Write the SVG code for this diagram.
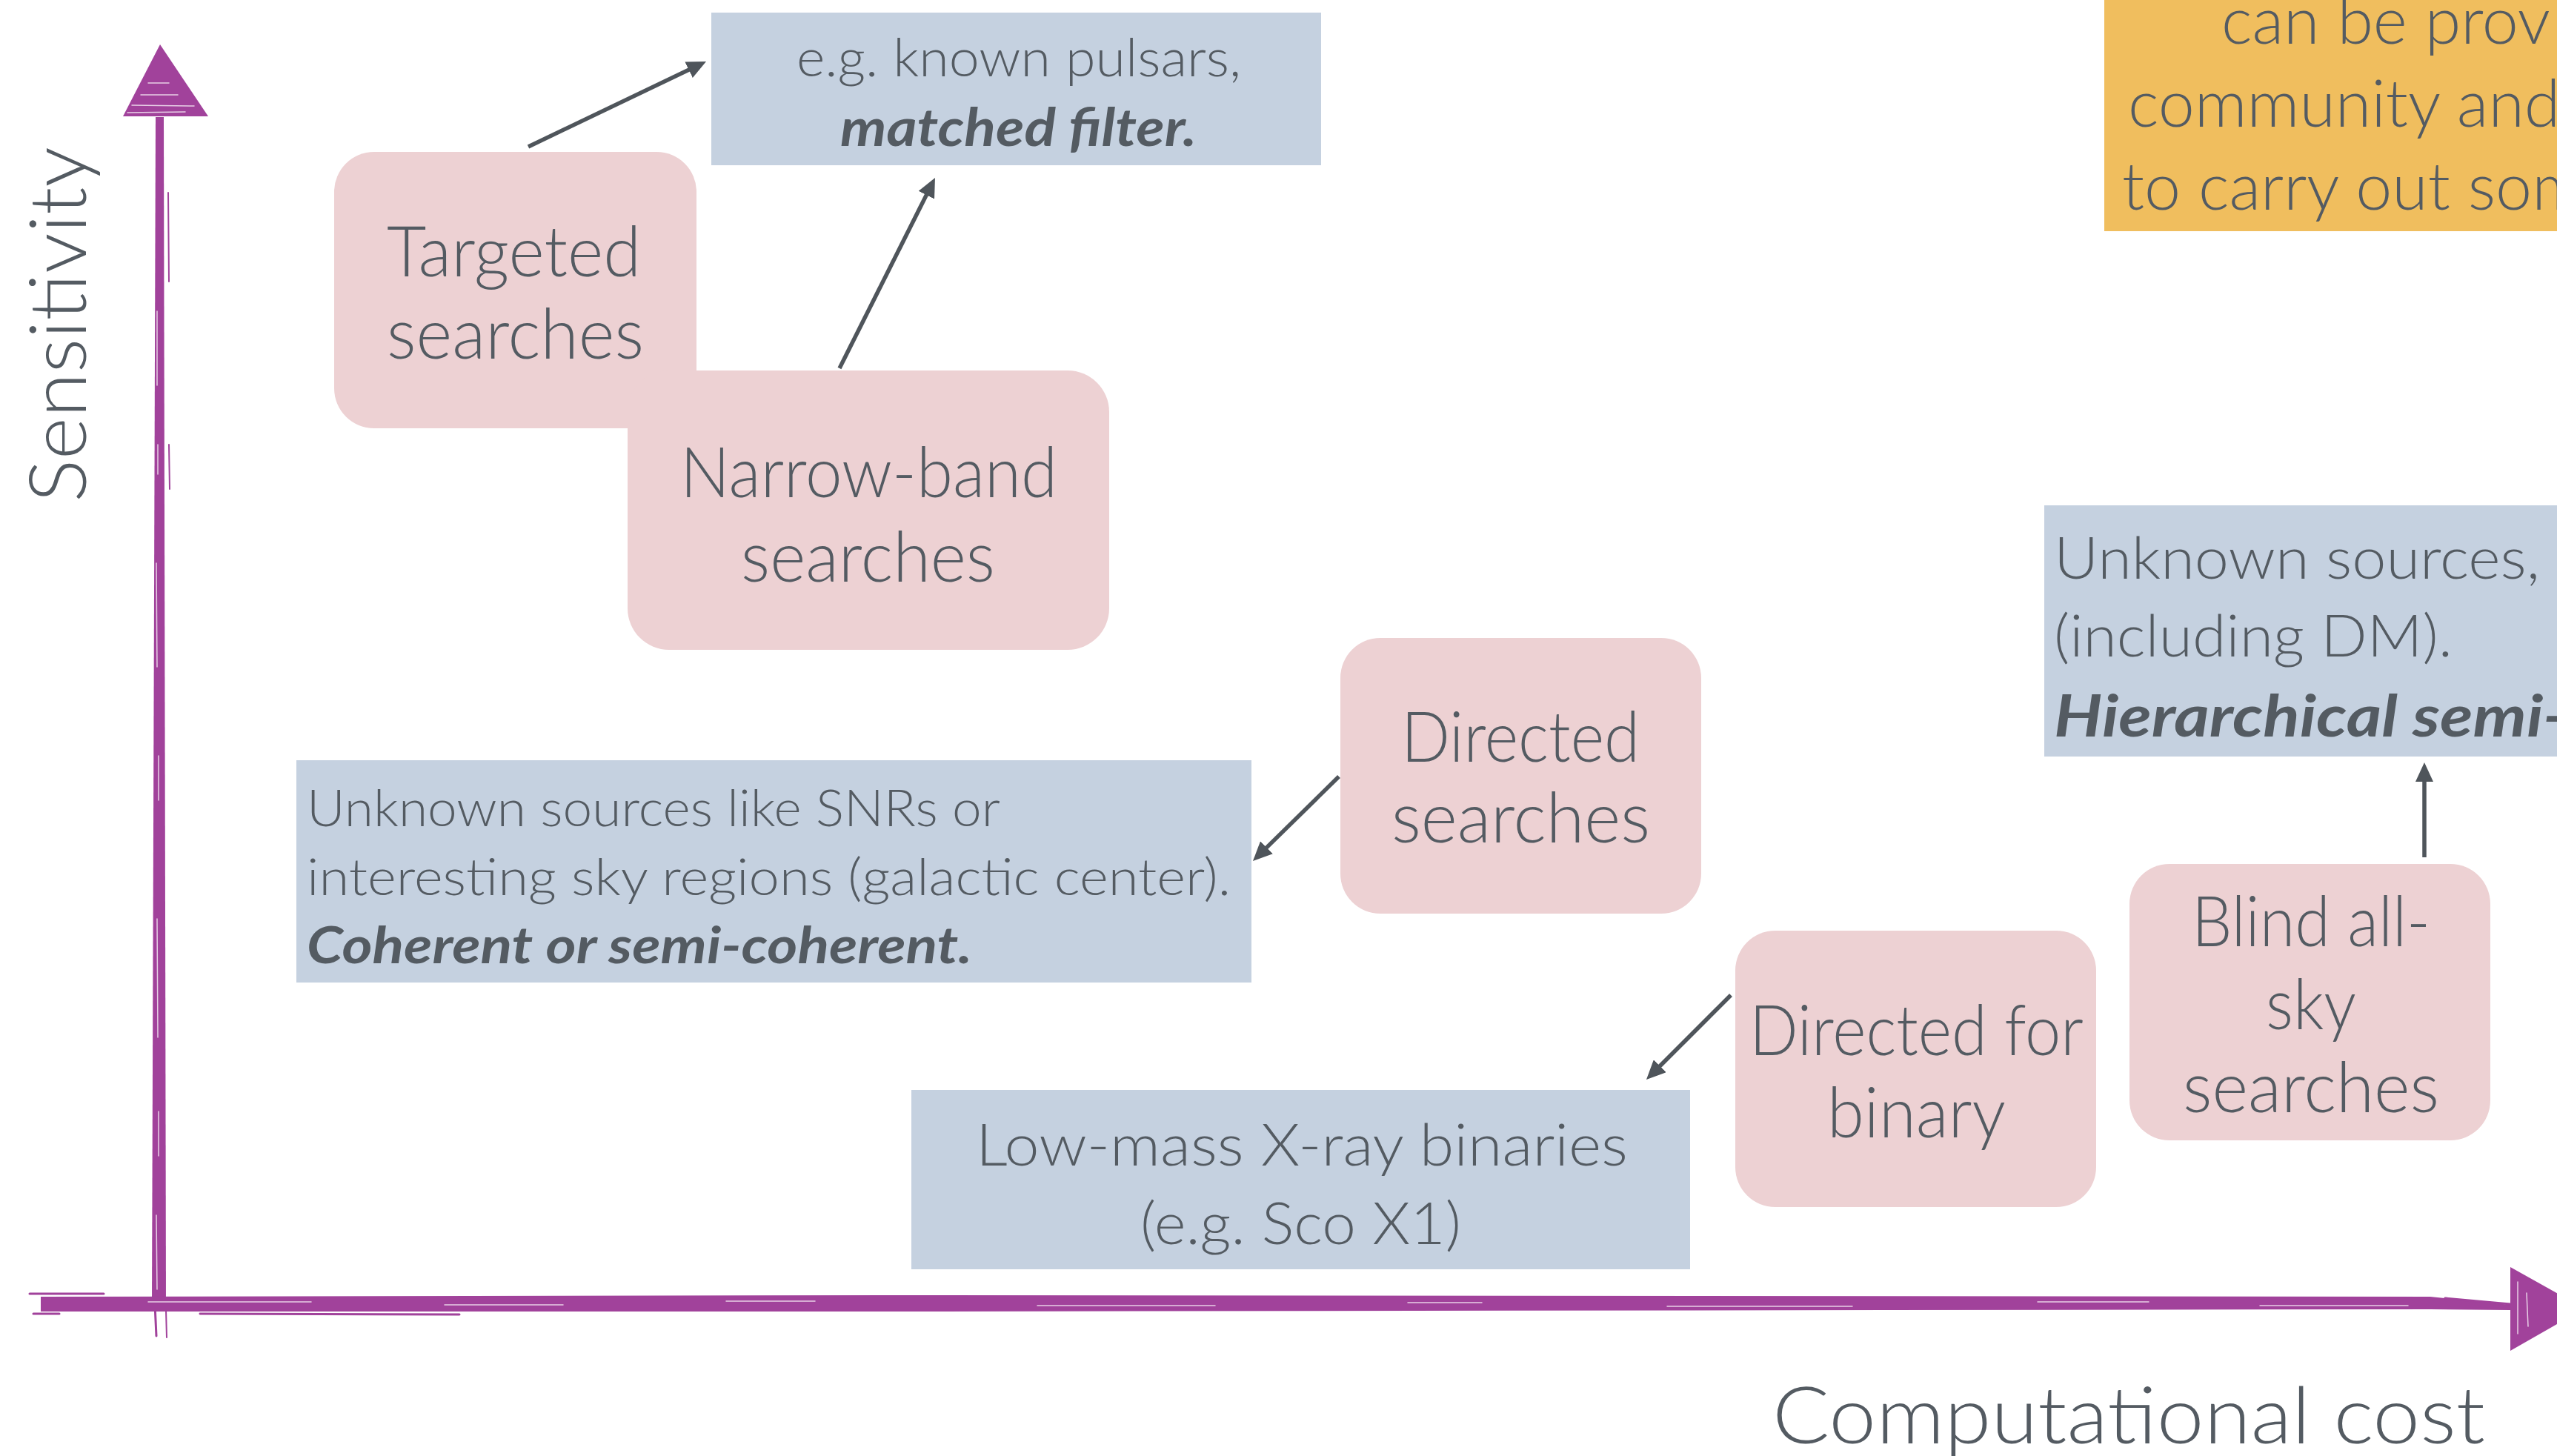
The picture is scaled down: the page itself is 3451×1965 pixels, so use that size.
<svg xmlns="http://www.w3.org/2000/svg" width="3451" height="1965" viewBox="0 0 3451 1965">
<defs>
<style>
.pink{fill:#EDD1D3}
.blue{fill:#C5D1E0}
.orange{fill:#F0BE5E}
text{font-family:Lato,Roboto,"Open Sans","Liberation Sans",sans-serif;font-weight:300;fill:#545B62}
.bi{font-weight:700;font-style:italic}
.f94{font-size:94px}
.f68{font-size:68px}
.f70{font-size:70px}
.f78{font-size:78px}
.f88{font-size:88px}
.f107{font-size:107px}
.conn{stroke:#4F555B;stroke-width:5.5;fill:none;marker-end:url(#ah)}
.axis{fill:#A1429B}
.axl{stroke:#A1429B;fill:none;stroke-linecap:round}
.streak{stroke:#fff;fill:none;stroke-linecap:round;opacity:0.75}
</style>
<marker id="ah" viewBox="0 0 26 24" refX="8" refY="12" markerWidth="26" markerHeight="24" markerUnits="userSpaceOnUse" orient="auto"><path d="M0,0 L26,12 L0,24 Z" fill="#4F555B"/></marker>
</defs>
<rect x="0" y="0" width="3451" height="1965" fill="#ffffff"/>

<g id="axes">
  <!-- y axis -->
  <path class="axis" d="M210,158 L221,158 L224,1762 L205,1762 Z"/>
  <polygon class="axis" points="216,60 166,157 281,157"/>
  <line class="axl" x1="209" y1="1760" x2="211" y2="1803" stroke-width="3"/>
  <line class="axl" x1="224" y1="1768" x2="225" y2="1805" stroke-width="2"/>
  <line class="axl" x1="227" y1="260" x2="228" y2="380" stroke-width="2"/>
  <line class="axl" x1="228" y1="600" x2="229" y2="660" stroke-width="2"/>
  <path class="streak" d="M212,420 L212,520 M213,600 L213,640 M211,760 L212,900 M214,1020 L214,1080 M212,1240 L213,1400 M214,1500 L214,1560 M211,1640 L212,1740" stroke-width="1.5"/>
  <path class="streak" d="M190,128 L240,128 M178,142 L262,143 M200,112 L228,112 M172,152 L250,151" stroke-width="1.5"/>
  <!-- x axis -->
  <path class="axis" d="M55,1750 L1200,1748 L3280,1750 L3388,1761 L3388,1768 L3280,1767 L1200,1770 L55,1770 Z"/>
  <polygon class="axis" points="3388,1710 3488,1766 3388,1823"/>
  <line class="axl" x1="45" y1="1773" x2="80" y2="1773" stroke-width="3"/>
  <line class="axl" x1="40" y1="1746" x2="140" y2="1746" stroke-width="3"/>
  <line class="axl" x1="270" y1="1773" x2="620" y2="1774" stroke-width="3"/>
  <line class="axl" x1="3300" y1="1752" x2="3388" y2="1760" stroke-width="3"/>
  <path class="streak" d="M200,1757 L420,1757 M600,1761 L760,1761 M980,1756 L1100,1756 M1400,1762 L1640,1762 M1900,1758 L2000,1758 M2250,1763 L2500,1763 M2750,1757 L2900,1757 M3050,1762 L3250,1762" stroke-width="1.5"/>
  <path class="streak" d="M3398,1730 L3398,1800 M3410,1745 L3412,1790" stroke-width="1.5"/>
  <text class="f107" transform="translate(116,678) rotate(-90)" x="0" y="0" textLength="480" lengthAdjust="spacingAndGlyphs">Sensitivity</text>
  <text class="f107" x="2392" y="1948" textLength="962" lengthAdjust="spacingAndGlyphs">Computational cost</text>
</g>

<g id="connectors">
  <line class="conn" x1="713" y1="198" x2="936.8" y2="90.8"/>
  <line class="conn" x1="1133" y1="497" x2="1253.9" y2="256.1"/>
  <line class="conn" x1="1807" y1="1048" x2="1703.8" y2="1149.4"/>
  <line class="conn" x1="2336" y1="1343" x2="2234.7" y2="1444.3"/>
  <line class="conn" x1="3272" y1="1157" x2="3272" y2="1047"/>
</g>

<g id="known-pulsars">
  <rect class="blue" x="960" y="17" width="823" height="206"/>
  <text class="f70" x="1075" y="103" textLength="600" lengthAdjust="spacingAndGlyphs">e.g. known pulsars,</text>
  <text class="f70 bi" x="1134" y="197" textLength="481" lengthAdjust="spacingAndGlyphs">matched filter.</text>
</g>

<g id="targeted">
  <rect class="pink" x="451" y="205" width="489" height="373" rx="54" ry="54"/>
  <text class="f94" x="522" y="373" textLength="343" lengthAdjust="spacingAndGlyphs">Targeted</text>
  <text class="f94" x="522" y="484" textLength="347" lengthAdjust="spacingAndGlyphs">searches</text>
</g>

<g id="narrow-band">
  <rect class="pink" x="847" y="500" width="650" height="377" rx="56" ry="56"/>
  <text class="f94" x="918" y="671" textLength="509" lengthAdjust="spacingAndGlyphs">Narrow-band</text>
  <text class="f94" x="1000" y="785" textLength="343" lengthAdjust="spacingAndGlyphs">searches</text>
</g>

<g id="directed">
  <rect class="pink" x="1809" y="861" width="487" height="372" rx="54" ry="54"/>
  <text class="f94" x="1891" y="1028" textLength="322" lengthAdjust="spacingAndGlyphs">Directed</text>
  <text class="f94" x="1878" y="1137" textLength="349" lengthAdjust="spacingAndGlyphs">searches</text>
</g>

<g id="unknown-snr">
  <rect class="blue" x="400" y="1026" width="1289" height="300"/>
  <text class="f68" x="414" y="1115" textLength="936" lengthAdjust="spacingAndGlyphs">Unknown sources like SNRs or</text>
  <text class="f68" x="414" y="1208" textLength="1247" lengthAdjust="spacingAndGlyphs">interesting sky regions (galactic center).</text>
  <text class="f68 bi" x="414" y="1300" textLength="898" lengthAdjust="spacingAndGlyphs">Coherent or semi-coherent.</text>
</g>

<g id="directed-binary">
  <rect class="pink" x="2342" y="1256" width="487" height="373" rx="54" ry="54"/>
  <text class="f94" x="2361" y="1424" textLength="451" lengthAdjust="spacingAndGlyphs">Directed for</text>
  <text class="f94" x="2466" y="1535" textLength="241" lengthAdjust="spacingAndGlyphs">binary</text>
</g>

<g id="lmxb">
  <rect class="blue" x="1230" y="1471" width="1051" height="242"/>
  <text class="f78" x="1317" y="1573" textLength="880" lengthAdjust="spacingAndGlyphs">Low-mass X-ray binaries</text>
  <text class="f78" x="1539" y="1679" textLength="433" lengthAdjust="spacingAndGlyphs">(e.g. Sco X1)</text>
</g>

<g id="blind-all-sky">
  <rect class="pink" x="2874" y="1166" width="487" height="373" rx="54" ry="54"/>
  <text class="f94" x="2958" y="1277" textLength="322" lengthAdjust="spacingAndGlyphs">Blind all-</text>
  <text class="f94" x="3058" y="1389" textLength="122" lengthAdjust="spacingAndGlyphs">sky</text>
  <text class="f94" x="2946" y="1501" textLength="346" lengthAdjust="spacingAndGlyphs">searches</text>
</g>

<g id="unknown-sources">
  <rect class="blue" x="2759" y="682" width="700" height="339"/>
  <text class="f78" x="2772" y="781" textLength="656" lengthAdjust="spacingAndGlyphs">Unknown sources,</text>
  <text class="f78" x="2772" y="886" textLength="538" lengthAdjust="spacingAndGlyphs">(including DM).</text>
  <text class="f78 bi" x="2772" y="994" textLength="692" lengthAdjust="spacingAndGlyphs">Hierarchical semi-</text>
</g>

<g id="note">
  <rect class="orange" x="2840" y="0" width="620" height="312"/>
  <text class="f88" x="2998" y="59">can be prov</text>
  <text class="f88" x="2872" y="171">community and</text>
  <text class="f88" x="2864" y="283">to carry out som</text>
</g>
</svg>
